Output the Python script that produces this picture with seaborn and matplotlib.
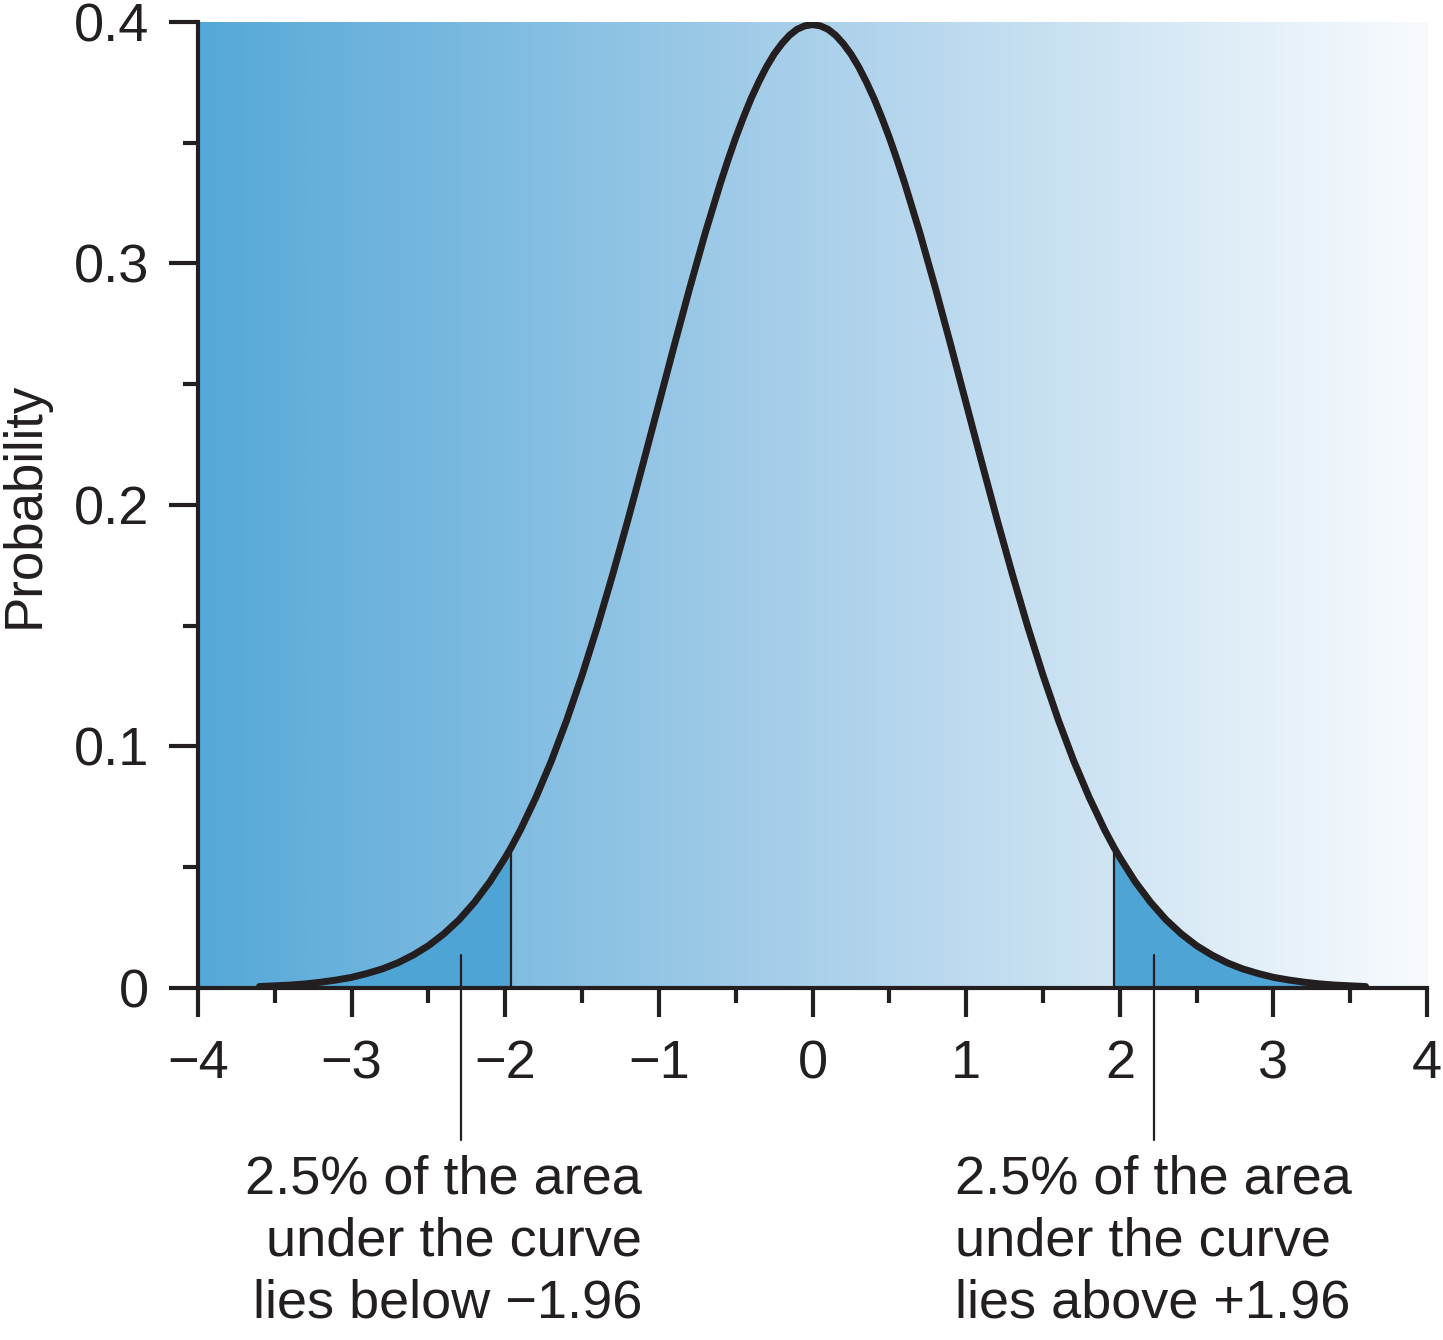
import numpy as np
import pandas as pd
import matplotlib
matplotlib.use("Agg")
import matplotlib.pyplot as plt
import seaborn as sns
from matplotlib.colors import LinearSegmentedColormap

# ---- data ----
half_z = [0.0, 0.05, 0.1, 0.15, 0.2, 0.25, 0.3, 0.35, 0.4, 0.45, 0.5, 0.55, 0.6,
          0.7, 0.8, 0.9, 1.0, 1.1, 1.2, 1.3, 1.4, 1.5, 1.6, 1.7, 1.8, 1.9, 1.96,
          2.0, 2.1, 2.2, 2.3, 2.4, 2.5, 2.6, 2.7, 2.8, 2.9, 3.0, 3.1, 3.2, 3.3,
          3.4, 3.5, 3.6]
half_p = [0.3989, 0.3984, 0.3970, 0.3945, 0.3910, 0.3867, 0.3814, 0.3752, 0.3683,
          0.3605, 0.3521, 0.3429, 0.3332, 0.3123, 0.2897, 0.2661, 0.2420, 0.2179,
          0.1942, 0.1714, 0.1497, 0.1295, 0.1109, 0.0940, 0.0790, 0.0656, 0.0584,
          0.0540, 0.0440, 0.0355, 0.0283, 0.0224, 0.0175, 0.0136, 0.0104, 0.0079,
          0.0060, 0.0044, 0.0033, 0.0024, 0.0017, 0.0012, 0.0009, 0.0006]
z_values = [-v for v in half_z[::-1]] + half_z[1:]
density = half_p[::-1] + half_p[1:]

critical_value = 1.96
pointer_x = [-2.29, 2.22]
pointer_top = 0.0137
x_ticks = [-4, -3, -2, -1, 0, 1, 2, 3, 4]
x_ticklabels = ["\u22124", "\u22123", "\u22122", "\u22121", "0", "1", "2", "3", "4"]
y_ticks = [0, 0.1, 0.2, 0.3, 0.4]
y_ticklabels = ["0", "0.1", "0.2", "0.3", "0.4"]
left_note = "2.5% of the area\nunder the curve\nlies below \u22121.96"
right_note = "2.5% of the area\nunder the curve\nlies above +1.96"
y_label = "Probability"

df = pd.DataFrame({"z": z_values, "p": density})

# ---- style ----
sns.set_theme(style="ticks")
plt.rcParams["font.family"] = ["Liberation Sans", "DejaVu Sans"]
ink = "#231f20"

fig = plt.figure(figsize=(14.43, 13.40), dpi=100)
ax = fig.add_axes([0.1372, 0.2627, 0.989 - 0.1372, 0.9836 - 0.2627])
ax.set_xlim(-4, 4)
ax.set_ylim(0, 0.4)

# gradient background
cmap = LinearSegmentedColormap.from_list(
    "bg", [(85/255, 168/255, 216/255), (170/255, 208/255, 234/255), (248/255, 251/255, 254/255)])
grad = np.linspace(0, 1, 512).reshape(1, -1)
ax.imshow(grad, cmap=cmap, aspect="auto", extent=(-4, 4, 0, 0.4), zorder=0,
          interpolation="bicubic")

# shaded tails
tail_color = (79/255, 164/255, 214/255)
left = df[df.z <= -critical_value]
right = df[df.z >= critical_value]
ax.fill_between(left.z, 0, left.p, color=tail_color, zorder=1, linewidth=0)
ax.fill_between(right.z, 0, right.p, color=tail_color, zorder=1, linewidth=0)
pc = float(df.loc[df.z == critical_value, "p"].iloc[0])
ax.plot([-critical_value, -critical_value], [0, pc], color=ink, lw=1.6, zorder=2)
ax.plot([critical_value, critical_value], [0, pc], color=ink, lw=1.6, zorder=2)

# curve
sns.lineplot(data=df, x="z", y="p", ax=ax, color=ink, lw=5, zorder=3,
             sort=False, estimator=None)
for ln in ax.get_lines():
    ln.set_solid_joinstyle("round")

# pointer lines
for px in pointer_x:
    ax.plot([px, px], [pointer_top, -0.063], color=ink, lw=1.6, zorder=4,
            clip_on=False)

# axes styling
sns.despine(ax=ax)
for s in ["left", "bottom"]:
    ax.spines[s].set_linewidth(3)
    ax.spines[s].set_color(ink)
    ax.spines[s].set_zorder(5)
ax.set_xticks(x_ticks)
ax.set_xticklabels(x_ticklabels)
ax.set_yticks(y_ticks)
ax.set_yticklabels(y_ticklabels)
ax.set_xticks(np.arange(-3.5, 4, 1.0), minor=True)
ax.set_yticks(np.arange(0.05, 0.4, 0.1), minor=True)
ax.tick_params(axis="both", which="major", length=21, width=3, color=ink,
               labelsize=39, labelcolor=ink, direction="out")
ax.tick_params(axis="both", which="minor", length=11, width=3, color=ink,
               direction="out")
ax.tick_params(axis="x", which="major", pad=16)
ax.tick_params(axis="y", which="major", pad=14)
ax.set_xlabel("")
ax.set_ylabel(y_label, fontsize=38, color=ink)
ax.yaxis.set_label_coords(-0.121, 0.5)

# notes
ax.text(-1.11, -0.069, left_note, ha="right", va="top", fontsize=39,
        color=ink, linespacing=1.31, clip_on=False)
ax.text(0.928, -0.069, right_note, ha="left", va="top", fontsize=39,
        color=ink, linespacing=1.31, clip_on=False)

fig.savefig("out.png", dpi=100)
